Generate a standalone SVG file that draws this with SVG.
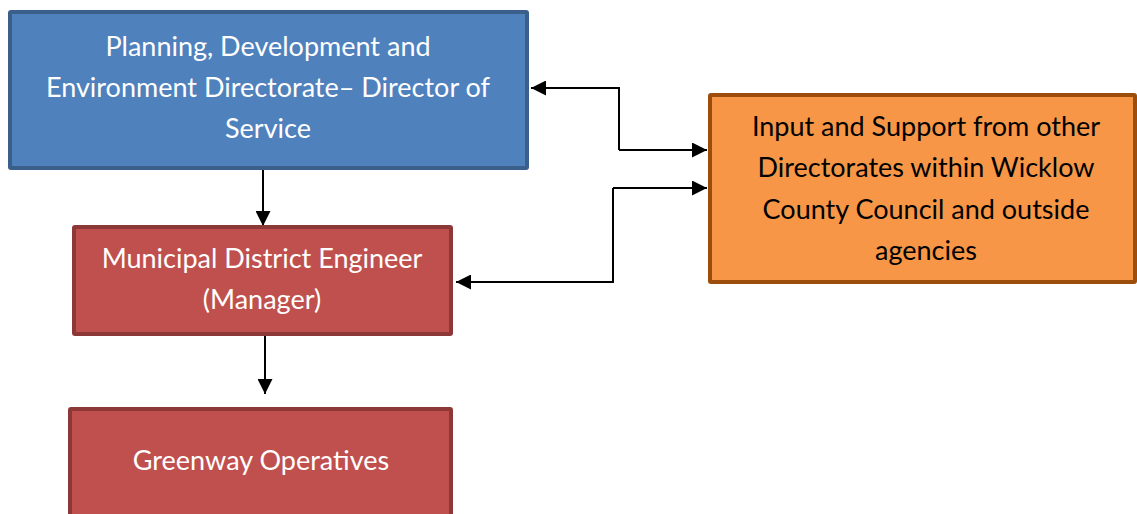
<svg xmlns="http://www.w3.org/2000/svg" width="1137" height="514" viewBox="0 0 1137 514">
<style>
.box{stroke-width:4}
.blue{fill:#4f81bd;stroke:#3a5f8b}
.red{fill:#c0504d;stroke:#8c3836}
.orange{fill:#f79646;stroke:#9c4d0c}
text{font-family:Lato,"Open Sans",sans-serif;font-size:27px;text-anchor:middle}
.w{fill:#fff}
.k{fill:#000}
.c{fill:none;stroke:#000;stroke-width:2}
</style>
<defs>
<marker id="ah" viewBox="0 0 10 10" refX="10" refY="5" markerWidth="7.5" markerHeight="7.5" markerUnits="strokeWidth" orient="auto">
<path d="M0,0 L10,5 L0,10 z" fill="#000"/>
</marker>
</defs>
<rect width="1137" height="514" fill="#fff"/>
<g id="connectors">
<path class="c" d="M263,170 V226" marker-end="url(#ah)"/>
<path class="c" d="M265,335 V394" marker-end="url(#ah)"/>
<path class="c" d="M619,150 H707" marker-end="url(#ah)"/>
<path class="c" d="M619,150 V88 H531" marker-end="url(#ah)"/>
<path class="c" d="M613,188 H707" marker-end="url(#ah)"/>
<path class="c" d="M613,188 V282 H456" marker-end="url(#ah)"/>
</g>
<g id="director">
<rect class="box blue" x="10" y="12" width="517" height="156" rx="1"/>
<text class="w" x="268" y="56">Planning, Development and</text>
<text class="w" x="268" y="97">Environment Directorate– Director of</text>
<text class="w" x="268" y="138">Service</text>
</g>
<g id="engineer">
<rect class="box red" x="74" y="227" width="377" height="107" rx="1"/>
<text class="w" x="262" y="268">Municipal District Engineer</text>
<text class="w" x="262" y="309">(Manager)</text>
</g>
<g id="operatives">
<rect class="box red" x="70" y="409" width="381" height="115" rx="1"/>
<text class="w" x="261" y="470">Greenway Operatives</text>
</g>
<g id="support">
<rect class="box orange" x="710" y="95" width="425" height="187" rx="1"/>
<text class="k" x="926" y="136">Input and Support from other</text>
<text class="k" x="926" y="177">Directorates within Wicklow</text>
<text class="k" x="926" y="219">County Council and outside</text>
<text class="k" x="926" y="260">agencies</text>
</g>
</svg>
